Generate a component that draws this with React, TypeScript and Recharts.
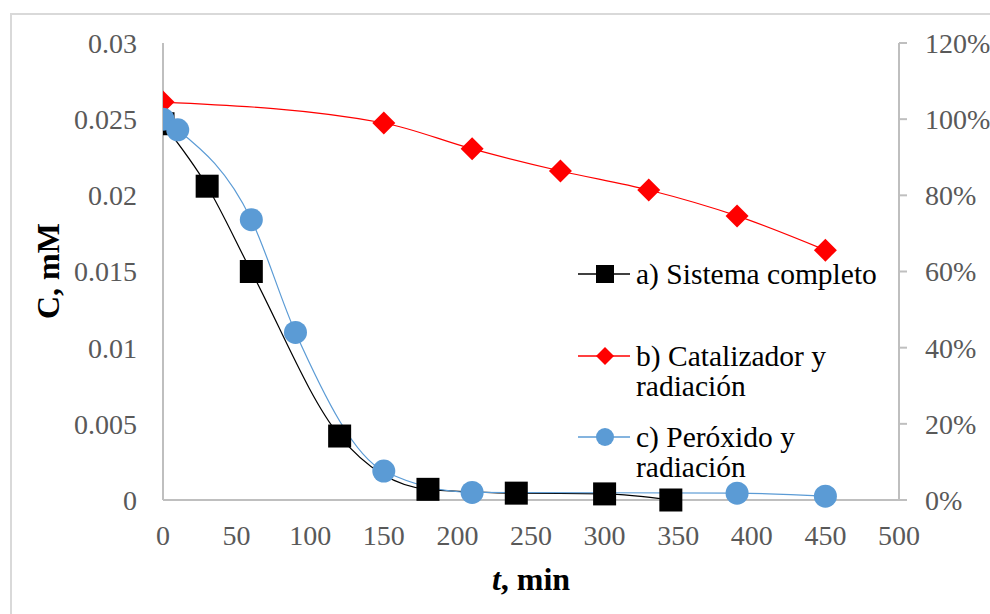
import React from 'react';
import { LineChart, Line, XAxis, YAxis, Legend } from 'recharts';

// a) Sistema completo (C, mM)
const timeA = [0, 30, 60, 120, 180, 240, 300, 345];
const concA = [0.0247, 0.0206, 0.015, 0.0042, 0.0007, 0.00045, 0.0004, 0.0];
// b) Catalizador y radiación (%)
const timeB = [0, 150, 210, 270, 330, 390, 450];
const pctB = [104.5, 99, 92.2, 86.4, 81.4, 74.6, 65.6];
// c) Peróxido y radiación (C, mM)
const timeC = [0, 10, 60, 90, 150, 210, 390, 450];
const concC = [0.025, 0.0243, 0.0184, 0.011, 0.0019, 0.0005, 0.00045, 0.00025];

const xTicks = [0, 50, 100, 150, 200, 250, 300, 350, 400, 450, 500];
const leftTicks = [0, 0.005, 0.01, 0.015, 0.02, 0.025, 0.03];
const rightTicks = [0, 20, 40, 60, 80, 100, 120];

const labelA = 'a) Sistema completo';
const labelB = 'b) Catalizador y radiación';
const labelC = 'c) Peróxido y radiación';

const dataA = timeA.map((t, i) => ({ t, v: concA[i] }));
const dataB = timeB.map((t, i) => ({ t, v: pctB[i] }));
const dataC = timeC.map((t, i) => ({ t, v: concC[i] }));

const FONT = '"Liberation Serif", "Times New Roman", serif';
const BLACK = '#000000';
const RED = '#ff0000';
const BLUE = '#5b9bd5';
const TICK = { fill: '#595959', fontSize: 28, fontFamily: FONT };

const SquareDot = (p: any) => (
  <rect key={`sq-${p.index}`} x={p.cx - 11.5} y={p.cy - 11.5} width={23} height={23} fill={BLACK} />
);
const DiamondDot = (p: any) => (
  <polygon
    key={`dm-${p.index}`}
    points={`${p.cx},${p.cy - 11.5} ${p.cx + 11.5},${p.cy} ${p.cx},${p.cy + 11.5} ${p.cx - 11.5},${p.cy}`}
    fill={RED}
  />
);
const CircleDot = (p: any) => <circle key={`ci-${p.index}`} cx={p.cx} cy={p.cy} r={11.5} fill={BLUE} />;

const legendItems = [
  { label: labelA, color: BLACK, shape: 'square', top: 0 },
  { label: labelB, color: RED, shape: 'diamond', top: 82 },
  { label: labelC, color: BLUE, shape: 'circle', top: 163 },
];

const LegendIcon = ({ color, shape }: { color: string; shape: string }) => (
  <svg width={52} height={20} style={{ position: 'absolute', left: 0, top: 5 }}>
    <line x1={0} y1={10} x2={52} y2={10} stroke={color} strokeWidth={1.5} />
    {shape === 'square' && <rect x={18} y={1} width={18} height={18} fill={color} />}
    {shape === 'diamond' && <polygon points="27,1 36,10 27,19 18,10" fill={color} />}
    {shape === 'circle' && <circle cx={27} cy={10} r={9} fill={color} />}
  </svg>
);

const LegendContent = () => (
  <div style={{ position: 'relative', width: 330, height: 240, fontFamily: FONT }}>
    {legendItems.map((it) => (
      <div key={it.label} style={{ position: 'absolute', left: 0, top: it.top, width: 330 }}>
        <LegendIcon color={it.color} shape={it.shape} />
        <div
          style={{
            marginLeft: 58,
            width: 255,
            fontSize: 29.5,
            lineHeight: '30px',
            color: '#000',
            whiteSpace: 'normal',
          }}
        >
          {it.label}
        </div>
      </div>
    ))}
  </div>
);

export default function App() {
  return (
    <div
      style={{
        position: 'fixed',
        left: 0,
        top: 0,
        width: 990,
        height: 614,
        overflow: 'hidden',
        background: '#fff',
      }}
    >
      <div
        style={{
          position: 'absolute',
          left: 10,
          top: 13,
          width: 1010,
          height: 640,
          border: '2px solid #d9d9d9',
          boxSizing: 'border-box',
        }}
      />
      <LineChart
        width={990}
        height={614}
        margin={{ top: 43, right: 10, bottom: 10, left: 10 }}
        style={{ position: 'absolute', left: 0, top: 0 }}
      >
        <XAxis
          xAxisId="bottom"
          dataKey="t"
          type="number"
          domain={[0, 500]}
          ticks={xTicks}
          allowDataOverflow
          height={104}
          tickSize={0}
          tickMargin={25}
          tick={TICK}
          axisLine={{ stroke: '#bfbfbf', strokeWidth: 2 }}
          label={{
            content: () => (
              <text x={531} y={590} textAnchor="middle" fontFamily={FONT} fontSize={32} fontWeight="bold" fill="#000">
                <tspan fontStyle="italic">t</tspan>
                <tspan>, min</tspan>
              </text>
            ),
          }}
        />
        <XAxis
          xAxisId="top"
          orientation="top"
          type="number"
          domain={[0, 500]}
          height={0}
          tick={false}
          tickLine={false}
          axisLine={{ stroke: '#000', strokeWidth: 2 }}
        />
        <YAxis
          yAxisId="left"
          type="number"
          domain={[0, 0.03]}
          ticks={leftTicks}
          width={153}
          tickSize={0}
          tickMargin={26}
          tick={TICK}
          axisLine={{ stroke: '#bfbfbf', strokeWidth: 2 }}
          label={{
            content: () => (
              <text
                x={0}
                y={0}
                transform="translate(59,271) rotate(-90)"
                textAnchor="middle"
                fontFamily={FONT}
                fontSize={32}
                fontWeight="bold"
                fill="#000"
              >
                C, mM
              </text>
            ),
          }}
        />
        <YAxis
          yAxisId="right"
          orientation="right"
          type="number"
          domain={[0, 120]}
          ticks={rightTicks}
          width={81}
          tickSize={8}
          tickMargin={18}
          tick={{ ...TICK, textAnchor: 'start' }}
          tickLine={{ stroke: '#bfbfbf', strokeWidth: 2 }}
          tickFormatter={(v: number) => `${v}%`}
          axisLine={{ stroke: '#bfbfbf', strokeWidth: 2 }}
        />
        <Legend
          layout="horizontal"
          verticalAlign="middle"
          align="center"
          content={LegendContent}
          wrapperStyle={{ position: 'absolute', left: 578, top: 259, width: 330, height: 240 }}
        />
        <Line
          name={labelA}
          data={dataA}
          dataKey="v"
          xAxisId="bottom"
          yAxisId="left"
          type="monotone"
          stroke={BLACK}
          strokeWidth={1.2}
          dot={SquareDot}
          activeDot={false}
          isAnimationActive={false}
        />
        <Line
          name={labelB}
          data={dataB}
          dataKey="v"
          xAxisId="bottom"
          yAxisId="right"
          type="monotone"
          stroke={RED}
          strokeWidth={1.2}
          dot={DiamondDot}
          activeDot={false}
          isAnimationActive={false}
        />
        <Line
          name={labelC}
          data={dataC}
          dataKey="v"
          xAxisId="bottom"
          yAxisId="left"
          type="monotone"
          stroke={BLUE}
          strokeWidth={1.2}
          dot={CircleDot}
          activeDot={false}
          isAnimationActive={false}
        />
      </LineChart>
    </div>
  );
}
